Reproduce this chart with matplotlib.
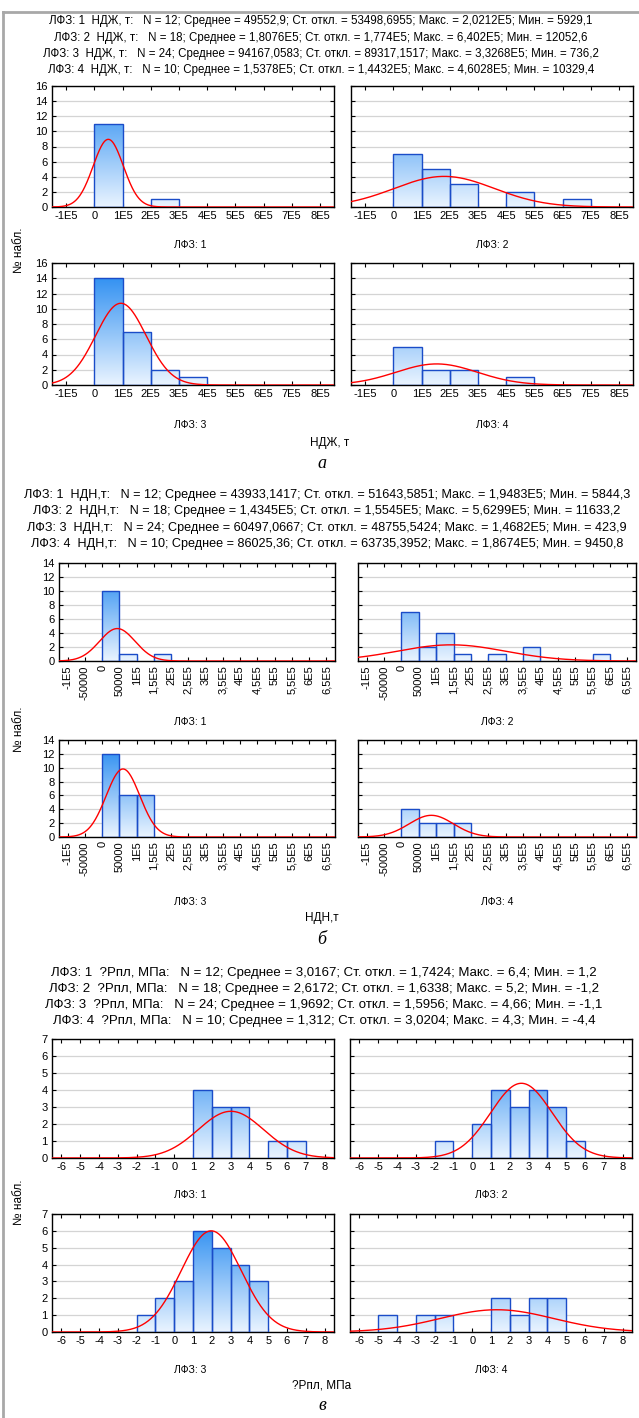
import numpy as np
import matplotlib.pyplot as plt
from matplotlib.colors import LinearSegmentedColormap
from matplotlib.lines import Line2D

plt.rcParams['font.family'] = ['Liberation Sans', 'DejaVu Sans']

W, H = 639, 1418

# --- panel a: НДЖ, т ---
ndzh_bins = [0, 1e5, 2e5, 3e5, 4e5, 5e5, 6e5, 7e5]
ndzh_counts = [
    [11, 0, 1, 0, 0, 0, 0, 0],
    [7, 5, 3, 0, 2, 0, 1, 0],
    [14, 7, 2, 1, 0, 0, 0, 0],
    [5, 2, 2, 0, 1, 0, 0, 0],
]
ndzh_n = [12, 18, 24, 10]
ndzh_mean = [49552.9, 1.8076e5, 94167.0583, 1.5378e5]
ndzh_std = [53498.6955, 1.774e5, 89317.1517, 1.4432e5]
ndzh_ticks = [-1e5, 0, 1e5, 2e5, 3e5, 4e5, 5e5, 6e5, 7e5, 8e5]
ndzh_ticklabels = ["-1E5", "0", "1E5", "2E5", "3E5", "4E5", "5E5", "6E5", "7E5", "8E5"]
ndzh_header = [
    "ЛФЗ: 1  НДЖ, т:   N = 12; Среднее = 49552,9; Ст. откл. = 53498,6955; Макс. = 2,0212E5; Мин. = 5929,1",
    "ЛФЗ: 2  НДЖ, т:   N = 18; Среднее = 1,8076E5; Ст. откл. = 1,774E5; Макс. = 6,402E5; Мин. = 12052,6",
    "ЛФЗ: 3  НДЖ, т:   N = 24; Среднее = 94167,0583; Ст. откл. = 89317,1517; Макс. = 3,3268E5; Мин. = 736,2",
    "ЛФЗ: 4  НДЖ, т:   N = 10; Среднее = 1,5378E5; Ст. откл. = 1,4432E5; Макс. = 4,6028E5; Мин. = 10329,4",
]

# --- panel b: НДН, т ---
ndn_bins = [0, 5e4, 1e5, 1.5e5, 2e5, 2.5e5, 3e5, 3.5e5, 4e5, 4.5e5, 5e5, 5.5e5, 6e5]
ndn_counts = [
    [10, 1, 0, 1, 0, 0, 0, 0, 0, 0, 0, 0, 0],
    [7, 2, 4, 1, 0, 1, 0, 2, 0, 0, 0, 1, 0],
    [12, 6, 6, 0, 0, 0, 0, 0, 0, 0, 0, 0, 0],
    [4, 2, 2, 2, 0, 0, 0, 0, 0, 0, 0, 0, 0],
]
ndn_n = [12, 18, 24, 10]
ndn_mean = [43933.1417, 1.4345e5, 60497.0667, 86025.36]
ndn_std = [51643.5851, 1.5545e5, 48755.5424, 63735.3952]
ndn_ticks = [-1e5, -5e4, 0, 5e4, 1e5, 1.5e5, 2e5, 2.5e5, 3e5, 3.5e5, 4e5, 4.5e5, 5e5, 5.5e5, 6e5, 6.5e5]
ndn_ticklabels = ["-1E5", "-50000", "0", "50000", "1E5", "1,5E5", "2E5", "2,5E5", "3E5",
                  "3,5E5", "4E5", "4,5E5", "5E5", "5,5E5", "6E5", "6,5E5"]
ndn_header = [
    "ЛФЗ: 1  НДН,т:   N = 12; Среднее = 43933,1417; Ст. откл. = 51643,5851; Макс. = 1,9483E5; Мин. = 5844,3",
    "ЛФЗ: 2  НДН,т:   N = 18; Среднее = 1,4345E5; Ст. откл. = 1,5545E5; Макс. = 5,6299E5; Мин. = 11633,2",
    "ЛФЗ: 3  НДН,т:   N = 24; Среднее = 60497,0667; Ст. откл. = 48755,5424; Макс. = 1,4682E5; Мин. = 423,9",
    "ЛФЗ: 4  НДН,т:   N = 10; Среднее = 86025,36; Ст. откл. = 63735,3952; Макс. = 1,8674E5; Мин. = 9450,8",
]

# --- panel v: ?Рпл, МПа ---
rpl_bins = [-6, -5, -4, -3, -2, -1, 0, 1, 2, 3, 4, 5, 6, 7]
rpl_counts = [
    [0, 0, 0, 0, 0, 0, 0, 4, 3, 3, 0, 1, 1, 0],
    [0, 0, 0, 0, 1, 0, 2, 4, 3, 4, 3, 1, 0, 0],
    [0, 0, 0, 0, 1, 2, 3, 6, 5, 4, 3, 0, 0, 0],
    [0, 1, 0, 1, 1, 0, 0, 2, 1, 2, 2, 0, 0, 0],
]
rpl_n = [12, 18, 24, 10]
rpl_mean = [3.0167, 2.6172, 1.9692, 1.312]
rpl_std = [1.7424, 1.6338, 1.5956, 3.0204]
rpl_ticks = [-6, -5, -4, -3, -2, -1, 0, 1, 2, 3, 4, 5, 6, 7, 8]
rpl_ticklabels = [str(t) for t in rpl_ticks]
rpl_header = [
    "ЛФЗ: 1  ?Рпл, МПа:   N = 12; Среднее = 3,0167; Ст. откл. = 1,7424; Макс. = 6,4; Мин. = 1,2",
    "ЛФЗ: 2  ?Рпл, МПа:   N = 18; Среднее = 2,6172; Ст. откл. = 1,6338; Макс. = 5,2; Мин. = -1,2",
    "ЛФЗ: 3  ?Рпл, МПа:   N = 24; Среднее = 1,9692; Ст. откл. = 1,5956; Макс. = 4,66; Мин. = -1,1",
    "ЛФЗ: 4  ?Рпл, МПа:   N = 10; Среднее = 1,312; Ст. откл. = 3,0204; Макс. = 4,3; Мин. = -4,4",
]

cmap = LinearSegmentedColormap.from_list("bar", ["#EAF4FF", "#1A84F0"])
grad = np.linspace(0, 1, 256).reshape(-1, 1)


def px_box(l, t, r, b):
    return [l / W, 1 - b / H, (r - l) / W, (b - t) / H]


def ftext(x, y, s, **kw):
    return fig.text(x / W, 1 - y / H, s, ha="center", va="center", **kw)


def draw_hist(ax, bins, width, counts, n, mean, std, xlim, ymax, ystep,
              ticks, ticklabels, show_y, rot):
    ax.set_xlim(*xlim)
    ax.set_ylim(0, ymax)
    ax.set_axisbelow(True)
    ax.yaxis.grid(True, color="#D4D4D4", lw=0.9)
    lefts = [b for b, c in zip(bins, counts) if c > 0]
    heights = [c for c in counts if c > 0]
    bars = ax.bar(lefts, heights, width=width, align="edge", facecolor="none",
                  edgecolor="#1A4CC8", lw=1.0, zorder=3)
    for p in bars:
        x0 = p.get_x()
        im = ax.imshow(grad, extent=(x0, x0 + width, 0, ymax), origin="lower",
                       aspect="auto", cmap=cmap, vmin=0, vmax=1, zorder=2)
        im.set_clip_path(p)
    xs = np.linspace(xlim[0], xlim[1], 500)
    ys = n * width / (std * np.sqrt(2 * np.pi)) * np.exp(-0.5 * ((xs - mean) / std) ** 2)
    ax.plot(xs, ys, color="#FF0000", lw=1.0, zorder=4)
    ax.set_xlim(*xlim)
    ax.set_ylim(0, ymax)
    ax.set_xticks(ticks)
    ax.set_xticklabels(ticklabels, rotation=rot)
    ax.set_yticks(np.arange(0, ymax + 0.1, ystep))
    ax.tick_params(direction="in", length=3, width=0.8, top=True, right=True,
                   labelsize=8, pad=3, colors="black")
    if not show_y:
        ax.tick_params(labelleft=False)
    for s in ax.spines.values():
        s.set_linewidth(1.0)


fig = plt.figure(figsize=(W / 100, H / 100), dpi=100)

panels = [
    dict(bins=ndzh_bins, width=1e5, counts=ndzh_counts, n=ndzh_n, mean=ndzh_mean, std=ndzh_std,
         xlim=(-1.5e5, 8.5e5), ymax=16, ystep=2, ticks=ndzh_ticks, labels=ndzh_ticklabels, rot=0,
         boxes=[(52, 86, 334, 207), (351, 86, 633, 207), (52, 263, 334, 385), (351, 263, 633, 385)]),
    dict(bins=ndn_bins, width=5e4, counts=ndn_counts, n=ndn_n, mean=ndn_mean, std=ndn_std,
         xlim=(-1.25e5, 6.75e5), ymax=14, ystep=2, ticks=ndn_ticks, labels=ndn_ticklabels, rot=90,
         boxes=[(59, 563, 335, 661), (358, 563, 636, 661), (59, 740, 335, 837), (358, 740, 636, 837)]),
    dict(bins=rpl_bins, width=1, counts=rpl_counts, n=rpl_n, mean=rpl_mean, std=rpl_std,
         xlim=(-6.5, 8.5), ymax=7, ystep=1, ticks=rpl_ticks, labels=rpl_ticklabels, rot=0,
         boxes=[(52, 1039, 334, 1158), (350, 1039, 632, 1158), (52, 1214, 334, 1332), (350, 1214, 632, 1332)]),
]

for p in panels:
    for i, bx in enumerate(p["boxes"]):
        ax = fig.add_axes(px_box(*bx))
        draw_hist(ax, p["bins"], p["width"], p["counts"][i], p["n"][i], p["mean"][i], p["std"][i],
                  p["xlim"], p["ymax"], p["ystep"], p["ticks"], p["labels"], i % 2 == 0, p["rot"])

# headers, fitted to the measured width of the first line
renderer = fig.canvas.get_renderer()
header_sets = [(ndzh_header, [21, 38, 54, 70], 321, 542),
               (ndn_header, [495, 511, 528, 544], 327, 610),
               (rpl_header, [973, 989, 1005, 1021], 324, 548)]
for lines, ys, xc, target in header_sets:
    texts = [ftext(xc, y, s, fontsize=8) for s, y in zip(lines, ys)]
    w = texts[0].get_window_extent(renderer).width
    for t in texts:
        t.set_fontsize(8 * target / w)

# subplot captions
for y1, y2, xr in [(245, 425, 492), (722, 902, 497), (1195, 1370, 491)]:
    ftext(190, y1, "ЛФЗ: 1", fontsize=7.5)
    ftext(xr, y1, "ЛФЗ: 2", fontsize=7.5)
    ftext(190, y2, "ЛФЗ: 3", fontsize=7.5)
    ftext(xr, y2, "ЛФЗ: 4", fontsize=7.5)

for y in [250, 729, 1202]:
    ftext(19, y, "№ набл.", fontsize=8.5, rotation=90)

ftext(330, 443, "НДЖ, т", fontsize=8.5)
ftext(322, 918, "НДН,т", fontsize=8.5)
ftext(322, 1386, "?Рпл, МПа", fontsize=8.5)

serif = dict(fontsize=13, style="italic", family=["Liberation Serif", "DejaVu Serif"])
ftext(322, 463, "а", **serif)
ftext(322, 939, "б", **serif)
ftext(322, 1405, "в", **serif)

# grey frame on the left and top
fig.add_artist(Line2D([3 / W, 3 / W], [0, 1 - 12 / H], color="#A8A8A8", lw=2))
fig.add_artist(Line2D([3 / W, 1], [1 - 12 / H, 1 - 12 / H], color="#A8A8A8", lw=2))

fig.savefig("out.png", dpi=100)
